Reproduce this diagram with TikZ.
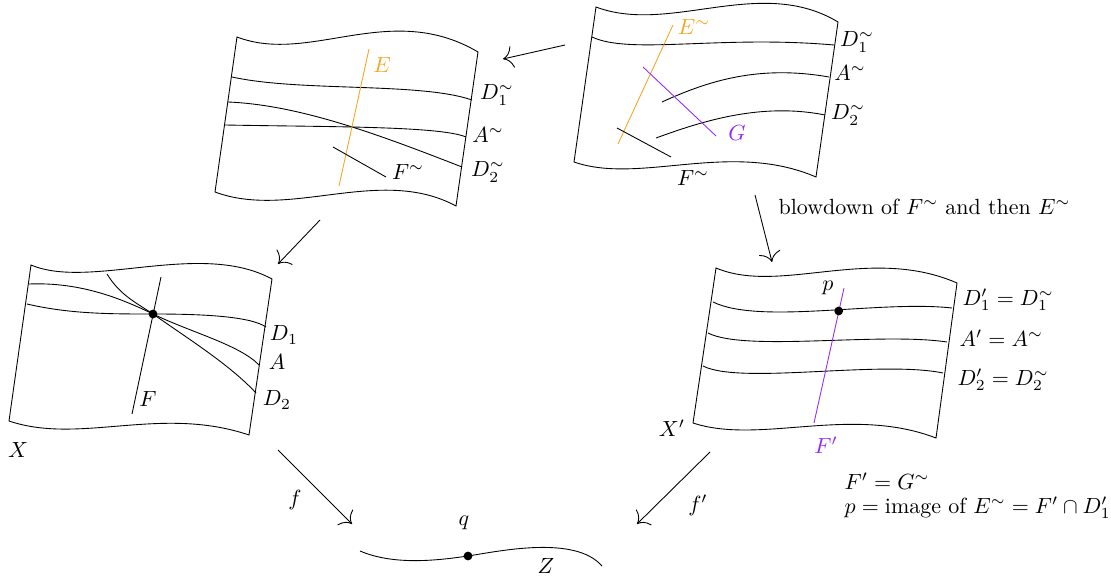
\documentclass[tikz,border=0pt]{standalone}
\usepackage{amsmath}
\usepackage{xcolor}
\usetikzlibrary{arrows.meta}
\definecolor{excE}{RGB}{246,166,35}
\definecolor{curveG}{RGB}{150,40,250}

\tikzset{
  mapto/.style={-{To[length=4.5pt,width=10pt]}},
  dotpt/.style={circle,fill,inner sep=0pt,minimum size=4pt},
  lbl/.style={inner sep=1pt}
}

\begin{document}
\begin{tikzpicture}[x=0.016cm,y=-0.016cm]
\useasboundingbox (0,0) rectangle (1111,580);

% top left: after blowing down G
\draw (237,37) .. controls (310,65) and (390,0) .. (478,52) -- (456,206)
  .. controls (380,165) and (290,220) .. (215,192) -- cycle;
\draw (232,77) .. controls (300,92) and (420,82) .. (472,100);
\draw (228,102) .. controls (300,105) and (380,135) .. (462,167);
\draw (225,125) .. controls (330,127) and (440,126) .. (466,137);
\draw[excE] (369,49) -- (339,186);
\draw (333,147) -- (386,177);
\node[lbl,excE] (lE) at (382,65) {$E$};
\node[lbl] (lDa) at (497,95) {$D_1^\sim$};
\node[lbl] (lAa) at (488,135) {$A^\sim$};
\node[lbl] (lDb) at (488,172) {$D_2^\sim$};
\node[lbl] (lFa) at (408,172) {$F^\sim$};

% top right
\draw (596,7) .. controls (670,35) and (760,-25) .. (838,22) -- (816,177)
  .. controls (730,140) and (640,185) .. (574,162) -- cycle;
\draw (592,37) .. controls (630,55) and (720,35) .. (834,45);
\draw (662,102) .. controls (710,80) and (760,65) .. (829,77);
\draw (656,138) .. controls (700,122) and (760,102) .. (825,115);
\draw[excE] (673,25) -- (618,144);
\draw[curveG] (643,67) -- (716,136);
\draw (617,128) -- (671,157);
\node[lbl,excE] (lEt) at (694,27) {$E^\sim$};
\node[lbl,curveG] (lG) at (737,133) {$G$};
\node[lbl] (lDc) at (857,42) {$D_1^\sim$};
\node[lbl] (lAb) at (850,73) {$A^\sim$};
\node[lbl] (lDd) at (848,115) {$D_2^\sim$};
\node[lbl] (lFb) at (693,178) {$F^\sim$};

% X
\draw (31,265) .. controls (90,290) and (200,240) .. (272,279) -- (249,435)
  .. controls (160,405) and (80,445) .. (9,421) -- cycle;
\draw (27,304) .. controls (70,314) and (110,314) .. (153,314)
  .. controls (200,314) and (250,316) .. (266,327);
\draw (29,284) .. controls (80,282) and (120,298) .. (153,314)
  .. controls (190,332) and (240,345) .. (259,365);
\draw (107,274) .. controls (120,295) and (135,302) .. (153,314)
  .. controls (190,340) and (230,365) .. (256,393);
\draw (161,277) -- (132,414);
\node[dotpt] (xpt) at (153,314) {};
\node[lbl] (lD1) at (284,335) {$D_1$};
\node[lbl] (lA) at (277,362) {$A$};
\node[lbl] (lD2) at (277,400) {$D_2$};
\node[lbl] (lF) at (148,399) {$F$};
\node[lbl] (lX) at (18,450) {$X$};

% X'
\draw (716,268) .. controls (780,295) and (870,245) .. (957,283) -- (936,438)
  .. controls (850,405) and (760,445) .. (693,423) -- cycle;
\draw (713,302) .. controls (760,325) and (880,300) .. (952,308);
\draw (708,333) .. controls (745,352) and (880,332) .. (947,342);
\draw (703,366) .. controls (740,385) and (880,360) .. (943,373);
\draw[curveG] (844,288) -- (814,423);
\node[dotpt] (ppt) at (838.7,311) {};
\node[lbl] (lp) at (828,288) {$p$};
\node[lbl,curveG] (lFp) at (826,445) {$F'$};
\node[lbl] (lXp) at (672,428) {$X'$};
\node[lbl,anchor=west] (lDp1) at (960,300) {$D_1' = D_1^\sim$};
\node[lbl,anchor=west] (lAp) at (957,338) {$A' = A^\sim$};
\node[lbl,anchor=west] (lDp2) at (955,380) {$D_2' = D_2^\sim$};
\node[lbl,anchor=west] (nt1) at (842,481) {$F' = G^\sim$};
\node[lbl,anchor=west] (nt2) at (842,508) {$p = \text{image of } E^\sim = F' \cap D_1'$};

% Z
\draw (360,551) .. controls (395,566) and (440,560) .. (468,556)
  .. controls (500,551) and (575,535) .. (602,566);
\node[dotpt] (qpt) at (468,556) {};
\node[lbl] (lq) at (464,523) {$q$};
\node[lbl] (lZ) at (546,566) {$Z$};

% maps
\coordinate (m1s) at (565,45);  \coordinate (m1e) at (503,59);
\coordinate (m2s) at (320,220); \coordinate (m2e) at (278,264);
\coordinate (m3s) at (755,195); \coordinate (m3e) at (772,262);
\coordinate (m4s) at (278,450); \coordinate (m4e) at (352,524);
\coordinate (m5s) at (710,452); \coordinate (m5e) at (637,524);
\draw[mapto] (m1s) -- (m1e);
\draw[mapto] (m2s) -- (m2e);
\draw[mapto] (m3s) -- (m3e);
\draw[mapto] (m4s) -- (m4e);
\draw[mapto] (m5s) -- (m5e);
\node[lbl,anchor=west] (lbd) at (776,207) {blowdown of $F^\sim$ and then $E^\sim$};
\node[lbl] (lf) at (295,500) {$f$};
\node[lbl] (lfp) at (698,505) {$f'$};
\end{tikzpicture}
\end{document}
